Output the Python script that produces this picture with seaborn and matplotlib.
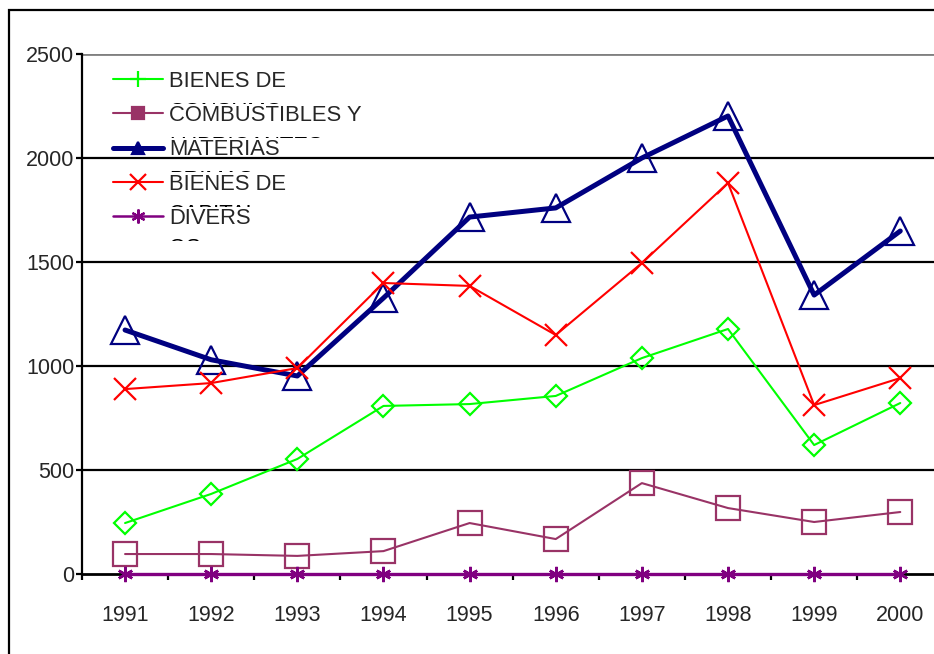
import matplotlib
matplotlib.use('Agg')
import matplotlib.pyplot as plt
from matplotlib.lines import Line2D
from matplotlib.patches import Rectangle
from matplotlib.transforms import Bbox
import pandas as pd
import seaborn as sns

years = ['1991', '1992', '1993', '1994', '1995', '1996', '1997', '1998', '1999', '2000']

consumo = [245, 385, 553, 808, 817, 856, 1038, 1178, 620, 822]
combustibles = [96, 96, 87, 110, 245, 168, 437, 317, 250, 298]
materias = [1173, 1030, 952, 1327, 1716, 1760, 2000, 2202, 1341, 1649]
capital = [889, 918, 990, 1399, 1385, 1149, 1495, 1880, 812, 942]
diversos = [0, 0, 0, 0, 0, 0, 0, 0, 0, 0]

labels = ['BIENES DE CONSUMO', 'COMBUSTIBLES Y LUBRICANTES', 'MATERIAS PRIMAS',
          'BIENES DE CAPITAL', 'DIVERSOS']
# what excel actually shows (second line is clipped)
line1 = ['BIENES DE', 'COMBUSTIBLES Y', 'MATERIAS', 'BIENES DE', 'DIVERS']
line2 = ['CONSUMO', 'LUBRICANTES', 'PRIMAS', 'CAPITAL', 'OS']

df = pd.DataFrame({'year': years * 5,
                   'serie': sum([[l] * 10 for l in labels], []),
                   'valor': consumo + combustibles + materias + capital + diversos})
df['x'] = df.groupby('serie').cumcount()

sns.set_style('white')
plt.rcParams['font.family'] = ['Liberation Sans Narrow', 'Liberation Sans', 'DejaVu Sans']

FS = 15.5
LFS = 15.8
colors = ['#00FF00', '#993366', '#000080', '#FF0000', '#800080']
widths = [1.5, 1.5, 3.6, 1.5, 2.4]
markers = ['D', 's', '^', 'x', (6, 2, 0)]
msizes = [11, 17, 20, 16, 11]
leg_markers = ['+', 's', '^', 'x', (6, 2, 0)]
leg_msizes = [12, 9, 9, 11, 10]

fig = plt.figure(figsize=(9.34, 6.54), dpi=100)
ax = fig.add_axes([82 / 934, 1 - 574 / 654, 1 - 82 / 934 + 0.01, (574 - 54) / 654])

for v in [500, 1000, 1500, 2000]:
    ax.axhline(v, color='black', lw=1.6, zorder=0)
ax.axhline(2500, color='#808080', lw=2, zorder=0)

for i, lab in enumerate(labels):
    sub = df[df['serie'] == lab]
    sns.lineplot(data=sub, x='x', y='valor', ax=ax, color=colors[i], lw=widths[i],
                 marker=markers[i], markersize=msizes[i], markerfacecolor='none',
                 markeredgecolor=colors[i], markeredgewidth=1.8 if i == 4 else 1.6,
                 legend=False, zorder=3 + i, clip_on=False)

ax.set_xlim(-0.5, 9.5)
ax.set_ylim(0, 2500)
ax.set_yticks([0, 500, 1000, 1500, 2000, 2500])
ax.set_xticks(range(10))
ax.set_xticklabels(years)
ax.set_xticks([k - 0.5 for k in range(11)], minor=True)
ax.set_xlabel('')
ax.set_ylabel('')
ax.tick_params(axis='x', which='major', length=0, pad=22, labelsize=FS)
ax.tick_params(axis='x', which='minor', length=4.5, width=1.6, color='black', direction='out', bottom=True)
ax.tick_params(axis='y', length=4.5, width=1.6, color='black', direction='out', pad=1, labelsize=FS, left=True)
for s in ['top', 'right']:
    ax.spines[s].set_visible(False)
ax.spines['left'].set_linewidth(1.6)
ax.spines['left'].set_color('black')
ax.spines['bottom'].set_linewidth(2)
ax.spines['bottom'].set_color('black')

handles = [Line2D([], [], color=colors[i], lw=widths[i] if i != 4 else 1.8,
                  marker=leg_markers[i], markersize=leg_msizes[i],
                  markerfacecolor=colors[i], markeredgecolor=colors[i], markeredgewidth=1.6)
           for i in range(5)]
leg = ax.legend(handles, line1, loc='upper left', bbox_to_anchor=(113 / 934, 1 - 71 / 654),
                bbox_transform=fig.transFigure, frameon=False, fontsize=LFS,
                handlelength=2.3, handletextpad=0.25, labelspacing=0.6, borderpad=0, borderaxespad=0)
leg.set_zorder(20)

# clipped second lines of the legend labels (only the top of the glyphs shows)
fig.canvas.draw()
em = LFS * 100 / 72
for i, t in enumerate(leg.get_texts()):
    bb = t.get_window_extent()
    base2 = bb.y0 + 0.21 * em - 1.15 * em - 5
    captop = base2 + 0.73 * em
    tt = fig.text(bb.x0 / 934, base2 / 654, line2[i], fontsize=LFS, va='baseline', ha='left',
                  color='black', zorder=21)
    tt.set_clip_box(Bbox.from_extents(bb.x0 - 5, captop - 2.5, bb.x0 + 300, captop + 0.5))
    tt.set_clip_on(True)

fig.patches.append(Rectangle((9 / 934, -0.1), 1.2, 1 - 10 / 654 + 0.1, transform=fig.transFigure,
                             fill=False, edgecolor='black', lw=1.6, zorder=30))

fig.savefig('out.png', dpi=100)
